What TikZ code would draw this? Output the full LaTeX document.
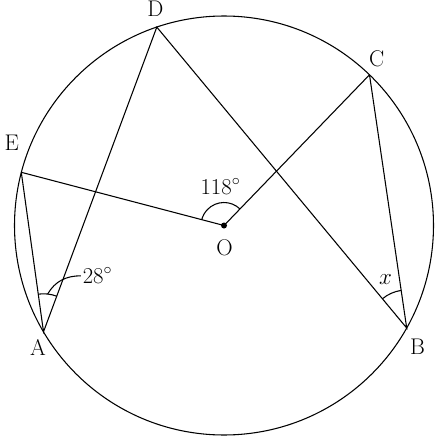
\documentclass[tikz,border=0pt]{standalone}
\usepackage{fontspec}
\usepackage{amsmath}
\usepackage{tikz}
\begin{document}
\begin{tikzpicture}[x=0.75pt,y=0.75pt,line width=0.8pt,
  lbl/.style={inner sep=1pt,font=\fontsize{17}{20}\selectfont}]
\useasboundingbox (0,0) rectangle (440,437);
% points on the circle
\coordinate (O) at (224,211.5);
\coordinate (D) at (156.8,409.9);
\coordinate (C) at (369.5,362.2);
\coordinate (E) at (21.3,264.7);
\coordinate (A) at (43.5,105.2);
\coordinate (B) at (406.7,109);
\draw (O) circle (209.5);
\fill (O) circle (3);
\draw (E)--(O)--(C);
\draw (E)--(A)--(D)--(B)--(C);
% letters
\node[lbl] (labD) at (155.5,428) {D};
\node[lbl] (labC) at (376.7,378.7) {C};
\node[lbl] (labE) at (11.7,294) {E};
\node[lbl] (labA) at (38,90) {A};
\node[lbl] (labB) at (417.5,90.5) {B};
\node[lbl] (labO) at (224.5,189) {O};
% angles
\draw (O) ++(46:23) arc[start angle=46,end angle=165.3,radius=23];
\node[lbl] (lab118) at (220.5,250.3) {118$^\circ$};
\draw (A) ++(69.6:38) arc[start angle=69.6,end angle=97.9,radius=38];
\path (A) ++(83.7:38) coordinate (lead);
\node[lbl] (lab28) at (97.5,161.2) {28$^\circ$};
\draw (lead) to[out=60,in=180] (lab28.west);
\draw (B) ++(98.4:38) arc[start angle=98.4,end angle=129.7,radius=38];
\node[lbl] (labx) at (385.5,157) {$x$};
\end{tikzpicture}
\end{document}
